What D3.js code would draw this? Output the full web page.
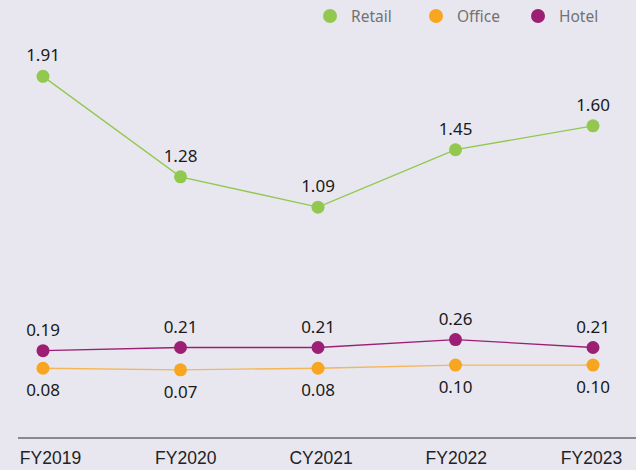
<!DOCTYPE html>
<html>
<head>
<meta charset="utf-8">
<script src="https://cdn.jsdelivr.net/npm/d3@7"></script>
<style>
  html, body { margin: 0; padding: 0; background: #e8e7f0; }
  svg { display: block; font-family: "Noto Sans", "Open Sans", sans-serif; }
</style>
</head>
<body>
<svg id="chart" width="636" height="470"></svg>
<script>
const categories = ["FY2019", "FY2020", "CY2021", "FY2022", "FY2023"];
const retail = [1.91, 1.28, 1.09, 1.45, 1.60];
const office = [0.08, 0.07, 0.08, 0.10, 0.10];
const hotel  = [0.19, 0.21, 0.21, 0.26, 0.21];

const series = [
  { name: "Retail", values: retail, color: "#92c84f", lineColor: "#92c84f", labelPos: "above" },
  { name: "Office", values: office, color: "#f8a51f", lineColor: "#f5b655", labelPos: "below" },
  { name: "Hotel",  values: hotel,  color: "#9c1f74", lineColor: "#9c1f74", labelPos: "above" }
];

const svg = d3.select("#chart");
const W = 636, H = 470;

const x = d3.scalePoint().domain(categories).range([43, 593]);
const xAxisScale = d3.scalePoint().domain(categories).range([50, 591]);
const y = d3.scaleLinear().domain([0, 2]).range([381, 62]);

// baseline axis
const axisY = 438;
svg.append("line")
  .attr("x1", 18).attr("x2", W)
  .attr("y1", axisY).attr("y2", axisY)
  .attr("stroke", "#2a2a2a").attr("stroke-width", 1);

const axis = d3.axisBottom(xAxisScale).tickSize(0).tickPadding(14);
const gAxis = svg.append("g").attr("transform", `translate(0,${axisY})`).call(axis);
gAxis.select(".domain").remove();
gAxis.selectAll("text")
  .attr("fill", "#222")
  .style("font-size", "17.5px");

const line = d3.line()
  .x((d, i) => x(categories[i]))
  .y(d => y(d));

series.forEach(s => {
  const g = svg.append("g");
  g.append("path")
    .datum(s.values)
    .attr("d", line)
    .attr("fill", "none")
    .attr("stroke", s.lineColor)
    .attr("stroke-width", 1.3);
  g.selectAll("circle")
    .data(s.values)
    .join("circle")
    .attr("cx", (d, i) => x(categories[i]))
    .attr("cy", d => y(d))
    .attr("r", 6.5)
    .attr("fill", s.color);
  g.selectAll("text")
    .data(s.values)
    .join("text")
    .attr("x", (d, i) => x(categories[i]))
    .attr("y", d => s.labelPos === "above" ? y(d) - 15 : y(d) + 28)
    .attr("text-anchor", "middle")
    .attr("fill", "#1a1a1a")
    .style("font-size", "17px")
    .text(d => d.toFixed(2));
});

// legend
const legendX = [330, 436, 538];
const legend = svg.append("g");
series.forEach((s, i) => {
  legend.append("circle")
    .attr("cx", legendX[i]).attr("cy", 16).attr("r", 7)
    .attr("fill", s.color);
  legend.append("text")
    .attr("x", legendX[i] + 21).attr("y", 21.5)
    .attr("fill", "#727272")
    .style("font-size", "15.5px")
    .text(s.name);
});
</script>
</body>
</html>
